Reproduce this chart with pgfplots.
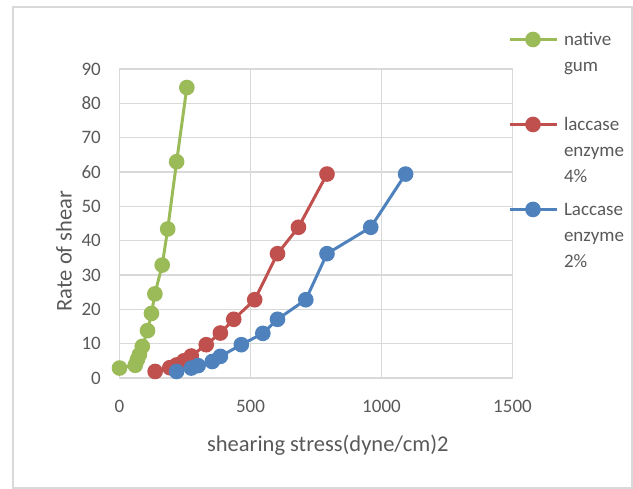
\documentclass[border=0pt]{standalone}
\usepackage{fontspec}
\setmainfont{Carlito}
\usepackage{pgfplots}
\pgfplotsset{compat=1.18}
\definecolor{cgreen}{RGB}{155,187,89}
\definecolor{cred}{RGB}{192,80,77}
\definecolor{cblue}{RGB}{79,129,189}
\definecolor{cgrid}{RGB}{217,217,217}
\definecolor{ctext}{RGB}{89,89,89}
\newcommand{\lentry}[1]{\begin{tabular}[t]{@{}l@{}}#1\end{tabular}}
\begin{document}
\begin{tikzpicture}
\useasboundingbox (-119.5bp,-111bp) rectangle (513.5bp,378bp);
\draw[cgrid, line width=1.2bp] (-106.5bp,-110bp) rectangle (512.5bp,371bp);
\begin{axis}[
  at={(0,0)}, anchor=south west,
  scale only axis, width=393bp, height=309bp,
  xmin=0, xmax=1500, ymin=0, ymax=90,
  xtick={0,500,1000,1500}, ytick={0,10,...,90},
  grid=major, major grid style={cgrid, line width=1.3bp},
  axis line style={cgrid, line width=1.3bp},
  tick style={draw=none},
  /pgf/number format/assume math mode=true,
  /pgf/number format/1000 sep={},
  scaled ticks=false,
  ticklabel style={font=\fontsize{19bp}{23bp}\selectfont, text=ctext},
  xticklabel style={anchor=north, inner sep=0pt, yshift=-22bp},
  yticklabel style={anchor=east, inner sep=0pt, xshift=-18.5bp},
  xlabel={shearing stress(dyne/cm)2},
  ylabel={Rate of shear},
  label style={font=\fontsize{22.5bp}{27bp}\selectfont, text=ctext},
  xlabel style={at={([yshift=-67bp]rel axis cs:0.53,0)}, anchor=center},
  ylabel style={at={([xshift=-55.5bp]rel axis cs:0,0.411)}, anchor=center},
  legend style={at={([xshift=-4.5bp,yshift=41bp]rel axis cs:1,1)}, anchor=north west,
    draw=none, fill=none, inner sep=0pt, outer sep=0pt,
    font=\fontsize{19bp}{25.7bp}\selectfont, text=ctext,
    row sep=65.5bp, column sep=6bp,
    nodes={inner sep=0pt},
    cells={anchor=base west}},
  legend image code/.code={\draw[mark repeat=2,mark phase=2] plot coordinates {(0bp,6.5bp) (23.5bp,6.5bp) (47bp,6.5bp)};},
]
\addplot[cgreen, line width=3bp, mark=*, mark size=6.3bp, mark options={solid}] coordinates {
(0,2.9) (60,3.7) (68,5.3) (76,6.8) (87,9.2) (107,13.8) (122,18.8) (135,24.5) (163,32.9) (184,43.4) (218,63.0) (257,84.6)
};
\addlegendentry{\lentry{native\\gum\\\mbox{}}}
\addplot[cred, line width=3bp, mark=*, mark size=6.3bp, mark options={solid}] coordinates {
(136,1.9) (192,3.0) (218,3.8) (246,5.0) (274,6.4) (331,9.7) (385,13.1) (436,17.1) (516,22.8) (603,36.2) (683,43.9) (792,59.4)
};
\addlegendentry{\lentry{laccase\\enzyme\\4\%}}
\addplot[cblue, line width=3bp, mark=*, mark size=6.3bp, mark options={solid}] coordinates {
(218,1.9) (274,2.9) (300,3.6) (354,4.8) (385,6.3) (465,9.7) (547,13.0) (603,17.1) (711,22.8) (792,36.2) (959,43.9) (1092,59.4)
};
\addlegendentry{\lentry{Laccase\\enzyme\\2\%}}
\end{axis}
\end{tikzpicture}
\end{document}
